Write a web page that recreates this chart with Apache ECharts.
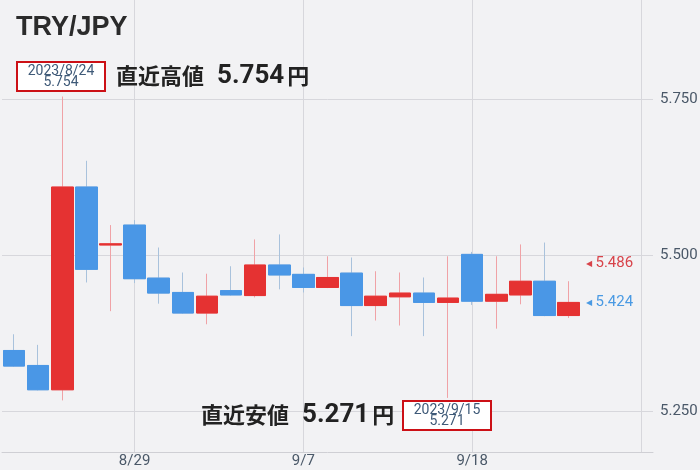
<!DOCTYPE html>
<html>
<head>
<meta charset="utf-8">
<script src="https://cdn.jsdelivr.net/npm/echarts@6/dist/echarts.min.js"></script>
<style>
html,body{margin:0;padding:0;background:#f2f2f4;}
#main{width:700px;height:470px;}
</style>
</head>
<body>
<div id="main"></div>
<script>
// ---- data ----
const categories = ['8/22','8/23','8/24','8/25','8/28','8/29','8/30','8/31','9/1','9/4','9/5','9/6','9/7','9/8','9/11','9/12','9/13','9/14','9/15','9/18','9/19','9/20','9/21','9/22','9/25','9/26','9/27'];
const opens  = [5.347,5.323,5.284,5.609,5.516,5.548,5.463,5.440,5.407,5.443,5.435,5.484,5.469,5.448,5.471,5.419,5.433,5.439,5.424,5.501,5.426,5.436,5.458,5.403];
const closes = [5.322,5.284,5.609,5.477,5.518,5.462,5.439,5.407,5.434,5.436,5.484,5.468,5.448,5.464,5.419,5.434,5.439,5.424,5.431,5.426,5.437,5.458,5.403,5.424];
const lows   = [5.321,5.283,5.267,5.456,5.410,5.455,5.422,5.406,5.389,5.435,5.432,5.445,5.440,5.447,5.370,5.395,5.387,5.370,5.271,5.420,5.382,5.421,5.402,5.399];
const highs  = [5.373,5.356,5.754,5.651,5.548,5.556,5.512,5.472,5.470,5.482,5.525,5.533,5.480,5.498,5.496,5.474,5.472,5.464,5.498,5.505,5.498,5.517,5.520,5.458];
const xTickLabels = ['8/29','9/7','9/18'];
const xGridDates = ['8/29','9/7','9/18','9/27'];
const yTicks = [5.25, 5.5, 5.75];
const yMin = 5.1843, yMax = 5.9087;
const title = 'TRY/JPY';
const highDate = '2023/8/24', highValue = 5.754;
const lowDate = '2023/9/15', lowValue = 5.271;
const askPrice = 5.486, bidPrice = 5.424;

const UP = '#e53232', DOWN = '#4a97e6';
const UP_WICK = '#f0a2a6', DOWN_WICK = '#a9c2dc';
const GRID = '#d7d7dc', LABEL = '#4a5868';

const fullData = opens.map((o, i) => [o, closes[i], lows[i], highs[i]]);
const bodyData = opens.map((o, i) => [o, closes[i], Math.min(o, closes[i]), Math.max(o, closes[i])]);

const chart = echarts.init(document.getElementById('main'), null, {renderer: 'canvas'});

chart.setOption({
  animation: false,
  backgroundColor: '#f2f2f4',
  grid: {left: 2, right: 47, top: 0, bottom: 18, containLabel: false},
  xAxis: {
    type: 'category',
    data: categories,
    boundaryGap: true,
    axisLine: {show: true, lineStyle: {color: '#cfcfd4', width: 1}},
    axisTick: {show: false},
    splitLine: {show: false},
    axisLabel: {
      interval: (i, v) => xTickLabels.includes(v),
      color: LABEL, fontSize: 15, fontFamily: 'Roboto', margin: 2, lineHeight: 15
    }
  },
  yAxis: {
    type: 'value', position: 'right', min: yMin, max: yMax, scale: true,
    axisLabel: {show: false}, axisLine: {show: false}, axisTick: {show: false},
    splitLine: {show: false}
  },
  series: [
    {
      type: 'candlestick',
      data: fullData,
      barWidth: 22,
      z: 2,
      itemStyle: {color: UP, color0: DOWN, borderColor: UP_WICK, borderColor0: DOWN_WICK, borderWidth: 1},
      markLine: {
        z: 1,
        silent: true,
        symbol: ['none', 'none'],
        animation: false,
        lineStyle: {color: GRID, width: 1, type: 'solid'},
        label: {show: false},
        emphasis: {disabled: true},
        data: [
          ...yTicks.map(v => ({
            yAxis: v,
            label: {show: true, position: 'end', distance: 7, formatter: () => v.toFixed(3),
                    color: LABEL, fontSize: 15, fontFamily: 'Roboto'}
          })),
          ...xGridDates.map(d => ({xAxis: d}))
        ]
      }
    },
    {
      type: 'candlestick',
      data: bodyData,
      barWidth: 22,
      z: 3,
      itemStyle: {color: UP, color0: DOWN, borderColor: UP, borderColor0: DOWN, borderWidth: 1}
    }
  ]
});

const askY = chart.convertToPixel({yAxisIndex: 0}, askPrice);
const bidY = chart.convertToPixel({yAxisIndex: 0}, bidPrice);

function box(x, y, date, value) {
  return [
    {type: 'rect', x: x, y: y, shape: {width: 88, height: 29}, z: 20,
     style: {fill: '#ffffff', stroke: '#cc1016', lineWidth: 2}},
    {type: 'text', x: x + 44, y: y + 15, z: 21,
     style: {text: date + '\n' + value.toFixed(3), align: 'center', verticalAlign: 'middle',
             fill: '#3f5a78', fontSize: 14, lineHeight: 11, fontFamily: 'Roboto'}}
  ];
}
function bigLabel(x, y, word, value) {
  return {type: 'text', x: x, y: y, z: 21,
    style: {
      text: '{a|' + word + '}{b|' + value.toFixed(3) + '}{c|円}',
      verticalAlign: 'middle', fill: '#222',
      rich: {
        a: {fontSize: 22, fontWeight: 'bold', fontFamily: 'Noto Sans CJK JP', fill: '#222'},
        b: {fontSize: 26, fontWeight: 'bold', fontFamily: 'Roboto', fill: '#222', padding: [0, 3, 0, 13]},
        c: {fontSize: 22, fontWeight: 'bold', fontFamily: 'Noto Sans CJK JP', fill: '#222'}
      }
    }};
}
function priceLabel(y, value, color) {
  return {type: 'text', x: 586, y: y, z: 21,
    style: {
      text: '{t|◀} {v|' + value.toFixed(3) + '}', verticalAlign: 'middle',
      rich: {
        t: {fontSize: 8, fill: color, fontFamily: 'DejaVu Sans'},
        v: {fontSize: 15, fill: color, fontFamily: 'Roboto'}
      }
    }};
}

chart.setOption({
  graphic: [
    {type: 'text', x: 16, y: 28, z: 21,
     style: {text: title, verticalAlign: 'middle', fill: '#2b2b2b', fontSize: 27, fontWeight: 'bold', fontFamily: 'Liberation Sans'}},
    ...box(17, 62, highDate, highValue),
    bigLabel(116, 76, '直近高値', highValue),
    ...box(403, 401, lowDate, lowValue),
    bigLabel(201, 415, '直近安値', lowValue),
    priceLabel(askY, askPrice, '#d8434a'),
    priceLabel(bidY, bidPrice, '#4a9ae3')
  ]
});
</script>
</body>
</html>
